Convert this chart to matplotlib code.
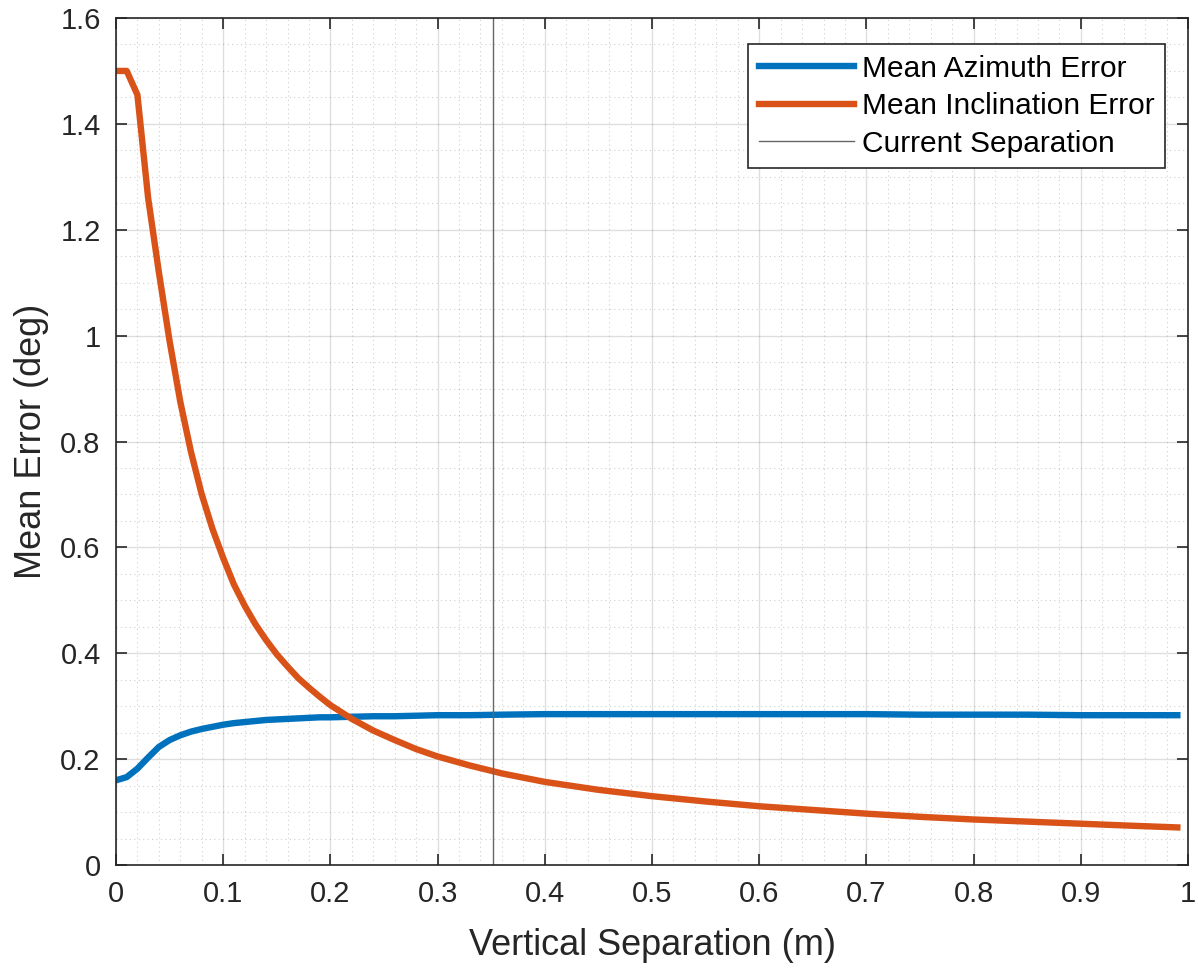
import matplotlib
matplotlib.use("Agg")
import matplotlib.pyplot as plt
from matplotlib.ticker import MultipleLocator

plt.rcParams['font.family'] = ['Liberation Sans', 'DejaVu Sans']

# vertical separation (m)
sep = [0.00, 0.01, 0.02, 0.03, 0.04, 0.05, 0.06, 0.07, 0.08, 0.09, 0.10,
       0.11, 0.12, 0.13, 0.14, 0.15, 0.16, 0.17, 0.18, 0.19, 0.20,
       0.22, 0.24, 0.26, 0.28, 0.30, 0.33, 0.36, 0.40, 0.45, 0.50,
       0.55, 0.60, 0.65, 0.70, 0.75, 0.80, 0.85, 0.90, 0.95, 0.99]

az_err = [0.160, 0.166, 0.182, 0.203, 0.223, 0.236, 0.245, 0.252, 0.257, 0.261, 0.265,
          0.268, 0.270, 0.272, 0.274, 0.275, 0.276, 0.277, 0.278, 0.279, 0.279,
          0.280, 0.281, 0.281, 0.282, 0.283, 0.283, 0.284, 0.285, 0.285, 0.285,
          0.285, 0.285, 0.285, 0.285, 0.284, 0.284, 0.284, 0.283, 0.283, 0.283]

inc_err = [1.500, 1.500, 1.455, 1.260, 1.120, 0.990, 0.875, 0.780, 0.700, 0.635, 0.580,
           0.530, 0.490, 0.455, 0.425, 0.398, 0.375, 0.353, 0.335, 0.318, 0.302,
           0.276, 0.254, 0.236, 0.219, 0.205, 0.188, 0.173, 0.157, 0.142, 0.130,
           0.120, 0.111, 0.104, 0.097, 0.091, 0.086, 0.082, 0.078, 0.074, 0.071]

current_sep = 0.352

fig = plt.figure(figsize=(11.98, 9.68), dpi=100)
ax = fig.add_axes([0.0968, 0.1064, 0.8949, 0.875])

ax.plot(sep, az_err, color=(0, 0.447, 0.741), lw=4.6, label='Mean Azimuth Error')
ax.plot(sep, inc_err, color=(0.85, 0.325, 0.098), lw=4.6, label='Mean Inclination Error')
ax.axvline(current_sep, color=(0.4, 0.4, 0.4), lw=1.0, label='Current Separation')

ax.set_xlim(0, 1)
ax.set_ylim(0, 1.6)
ax.xaxis.set_major_locator(MultipleLocator(0.1))
ax.yaxis.set_major_locator(MultipleLocator(0.2))
ax.xaxis.set_minor_locator(MultipleLocator(0.02))
ax.yaxis.set_minor_locator(MultipleLocator(0.05))
ax.set_xticklabels([f'{v:g}' for v in ax.get_xticks()])
ax.set_yticklabels([f'{v:g}' for v in ax.get_yticks()])

ax.grid(which='major', color=(0.15, 0.15, 0.15), alpha=0.15, lw=1.0)
ax.grid(which='minor', color=(0.15, 0.15, 0.15), alpha=0.22, lw=0.8, ls=(0, (1, 3)))
ax.set_axisbelow(True)

for s in ax.spines.values():
    s.set_color((0.15, 0.15, 0.15))
    s.set_linewidth(1.2)
ax.tick_params(which='major', direction='in', length=8, width=1.2, top=True, right=True,
               labelsize=21, colors=(0.15, 0.15, 0.15), pad=11)
ax.tick_params(which='minor', length=0)

ax.set_xlabel('Vertical Separation (m)', fontsize=26, color=(0.15, 0.15, 0.15), labelpad=14)
ax.set_ylabel('Mean Error (deg)', fontsize=26, color=(0.15, 0.15, 0.15), labelpad=8)

leg = ax.legend(loc='upper right', bbox_to_anchor=(0.9785, 0.969), fontsize=21.5,
                fancybox=False, framealpha=1, edgecolor=(0.15, 0.15, 0.15),
                handlelength=3.2, borderpad=0.35, labelspacing=0.32, handletextpad=0.25,
                borderaxespad=0)
leg.get_frame().set_linewidth(1.2)

fig.savefig('out.png', dpi=100)
